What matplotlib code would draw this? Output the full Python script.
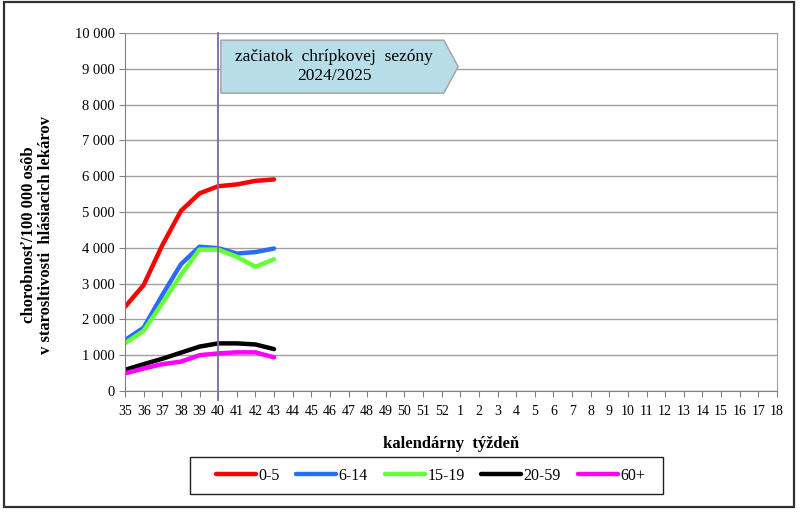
import matplotlib
matplotlib.use("Agg")
import matplotlib.pyplot as plt
from matplotlib.patches import Polygon, Rectangle
from matplotlib.ticker import FuncFormatter, MultipleLocator

weeks = [str(w) for w in list(range(35, 53)) + list(range(1, 19))]
series_names = ["0-5", "6-14", "15-19", "20-59", "60+"]
v_0_5 = [2350, 2960, 4070, 5030, 5520, 5720, 5770, 5870, 5910]
v_6_14 = [1420, 1770, 2680, 3540, 4030, 3990, 3840, 3880, 3980]
v_15_19 = [1330, 1680, 2450, 3240, 3950, 3950, 3750, 3470, 3680]
v_20_59 = [590, 750, 900, 1070, 1240, 1330, 1330, 1300, 1170]
v_60 = [490, 630, 750, 820, 1000, 1050, 1080, 1080, 940]
colors = ["#ff0000", "#2a6cf5", "#66ff33", "#000000", "#ff00ff"]
season_start_week = "40"

plt.rcParams['font.family'] = ['Liberation Serif', 'DejaVu Serif']

fig = plt.figure(figsize=(8, 5.12), dpi=100)
ax = fig.add_axes([125/800, 1-391/512, 652/800, 358/512])

x = list(range(len(weeks)))
all_vals = [v_0_5, v_6_14, v_15_19, v_20_59, v_60]
for name, vals, c in zip(series_names, all_vals, colors):
    ax.plot(x[:len(vals)], vals, color=c, lw=3.2, label=name, solid_capstyle='round')

ax.set_xlim(0, len(weeks) - 1)
ax.set_ylim(0, 10000)
ax.set_xticks(x)
ax.set_xticklabels(weeks, fontsize=10)
ax.yaxis.set_major_locator(MultipleLocator(1000))
ax.yaxis.set_major_formatter(FuncFormatter(lambda v, p: f"{int(v):,}".replace(",", " ")))
ax.tick_params(axis='y', labelsize=10.5, direction='out', length=4, color='#808080')
ax.tick_params(axis='x', direction='out', length=4, color='#808080', pad=6)
ax.grid(axis='y', color='#a0a0a0', lw=1)
ax.set_axisbelow(True)
for s in ['left', 'bottom']:
    ax.spines[s].set_color('#808080')
for s in ['top', 'right']:
    ax.spines[s].set_color('#a0a0a0')

xi = weeks.index(season_start_week)
ax.axvline(xi, ymin=-0.025, ymax=1, color='#7b6aa6', lw=1.3, clip_on=False, zorder=5)

poly = Polygon([(0.147, 0.832), (0.489, 0.832), (0.511, 0.906), (0.489, 0.980), (0.147, 0.980)],
               closed=True, transform=ax.transAxes, facecolor='#b7dee8', edgecolor='#a0a0a0',
               lw=1, zorder=6)
ax.add_patch(poly)
ax.text(0.321, 0.906, "začiatok  chrípkovej  sezóny\n2024/2025", transform=ax.transAxes,
        ha='center', va='center', fontsize=12.5, zorder=7, linespacing=1.3)

ax.set_xlabel("kalendárny  týždeň", fontsize=12, fontweight='bold', labelpad=13)
fig.text(0.036, 0.541, "chorobnosť/100 000 osôb", rotation=90, ha='center', va='center',
         fontsize=12, fontweight='bold')
fig.text(0.058, 0.541, "v starosltivosti  hlásiacich lekárov", rotation=90, ha='center',
         va='center', fontsize=12, fontweight='bold')

leg = fig.legend(loc='center', bbox_to_anchor=(216/800, (512-494)/512, (645-216)/800, 37/512),
                 mode='expand', ncol=5, frameon=False, fontsize=11.5,
                 handlelength=2.5, handletextpad=0.15, borderaxespad=0, borderpad=0,
                 columnspacing=1.0)

fig.patches.append(Rectangle((190/800, (512-494)/512), 473/800, 37/512, transform=fig.transFigure,
                             fill=False, edgecolor='#202020', lw=1))
fig.patches.append(Rectangle((4/800, 5/512), 790/800, 505/512, transform=fig.transFigure,
                             fill=False, edgecolor='#303030', lw=1.6))

fig.savefig("out.png", dpi=100)
